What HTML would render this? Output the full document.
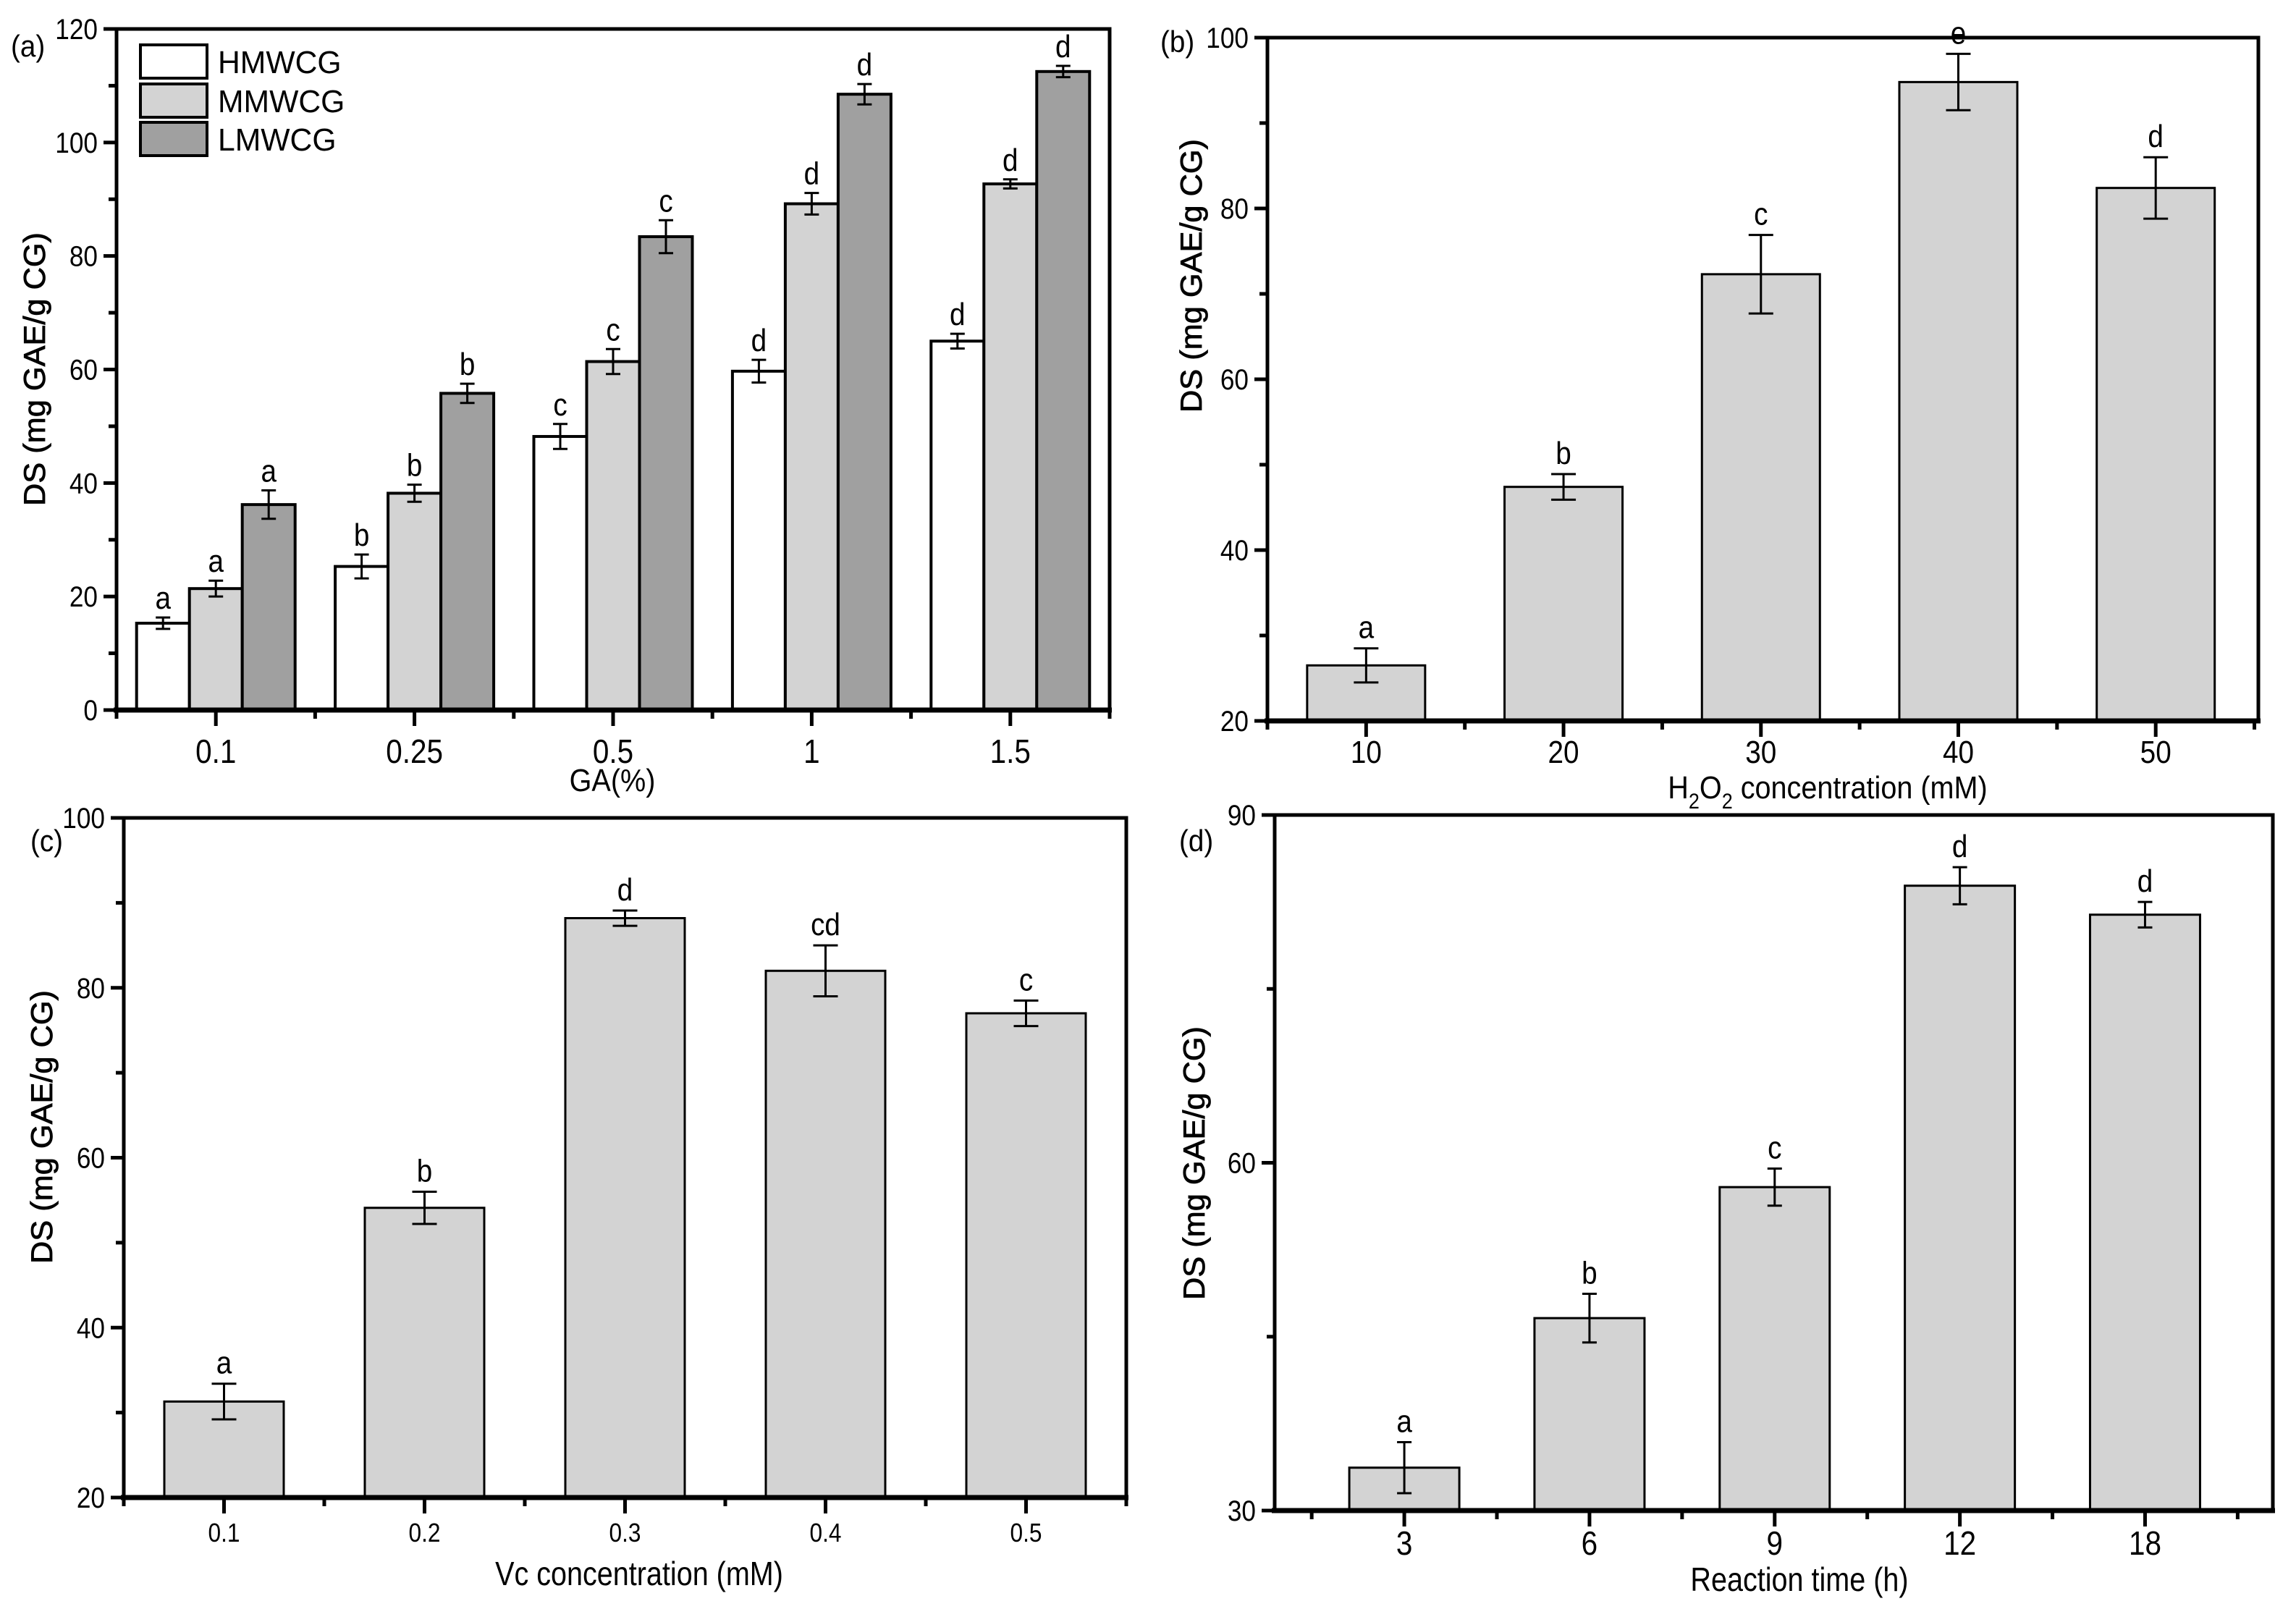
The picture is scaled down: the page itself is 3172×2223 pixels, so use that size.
<!DOCTYPE html>
<html><head><meta charset="utf-8"><style>
html,body{margin:0;padding:0;background:#fff;}
svg{display:block;font-family:"Liberation Sans",Arial,sans-serif;}
</style></head>
<body>
<svg id="fig" xmlns="http://www.w3.org/2000/svg" width="3172" height="2223" viewBox="0 0 3172 2223"></svg>
<script>
// ---- Panel (a) data ----
const aCategories = ["0.1","0.25","0.5","1","1.5"];
const aSeriesNames = ["HMWCG","MMWCG","LMWCG"];
const aHM = [15.3, 25.3, 48.2, 59.7, 65.0];
const aMM = [21.4, 38.2, 61.4, 89.2, 92.7];
const aLM = [36.2, 55.8, 83.4, 108.5, 112.5];
const aHMerr = [1.0, 2.1, 2.2, 2.0, 1.3];
const aMMerr = [1.4, 1.5, 2.2, 1.9, 0.8];
const aLMerr = [2.5, 1.7, 2.9, 1.8, 1.0];
const aHMlab = ["a","b","c","d","d"];
const aMMlab = ["a","b","c","d","d"];
const aLMlab = ["a","b","c","d","d"];
const aYTicks = [0,20,40,60,80,100,120];
// ---- Panel (b) data ----
const bCategories = ["10","20","30","40","50"];
const bValues = [26.5, 47.4, 72.3, 94.8, 82.4];
const bErr = [2.0, 1.5, 4.6, 3.3, 3.6];
const bLab = ["a","b","c","e","d"];
const bYTicks = [20,40,60,80,100];
// ---- Panel (c) data ----
const cCategories = ["0.1","0.2","0.3","0.4","0.5"];
const cValues = [31.3, 54.1, 88.2, 82.0, 77.0];
const cErr = [2.1, 1.9, 0.9, 3.0, 1.5];
const cLab = ["a","b","d","cd","c"];
const cYTicks = [20,40,60,80,100];
// ---- Panel (d) data ----
const dCategories = ["3","6","9","12","18"];
const dValues = [33.7, 46.6, 57.9, 83.9, 81.4];
const dErr = [2.2, 2.1, 1.6, 1.6, 1.1];
const dLab = ["a","b","c","d","d"];
const dYTicks = [30,60,90];

const NS = "http://www.w3.org/2000/svg";
const svg = document.getElementById("fig");
function mk(tag, attrs, parent) {
  const e = document.createElementNS(NS, tag);
  for (const k in attrs) e.setAttribute(k, attrs[k]);
  (parent || svg).appendChild(e);
  return e;
}
function txt(s, x, y, size, anchor, sx, parent) {
  const t = mk("text", {x: 0, y: 0, "font-size": size, "text-anchor": anchor || "middle",
    transform: "translate(" + x + "," + y + ") scale(" + (sx || 1) + ",1)"}, parent);
  t.textContent = s;
  return t;
}

function panel(cfg) {
  const g = mk("g", {});
  
  
  const yS = v => cfg.B - (v - cfg.ymin) / (cfg.ymax - cfg.ymin) * (cfg.B - cfg.T);
  const xS = i => cfg.L + (i - cfg.xmin) / (cfg.xmax - cfg.xmin) * (cfg.R - cfg.L);
  cfg.yS = yS; cfg.xS = xS; cfg.g = g;
  cfg.drawBars(cfg, g);
  const fr = mk("rect", {x: cfg.L, y: cfg.T, width: cfg.R - cfg.L, height: cfg.B - cfg.T, fill: "none", stroke: "#000", "stroke-width": 5}, g);
  
  
  const base = mk("line", {x1: cfg.L - 4, x2: cfg.R + 3, y1: cfg.B, y2: cfg.B, stroke: "#000", "stroke-width": 7}, g);
  
  
  const yax = mk("g", {}, g);
  
  
  for (let v = cfg.ymin; v <= cfg.ymax + 0.001; v += cfg.yminor) {
    const major = cfg.yTicks.indexOf(v) >= 0;
    const y = yS(v);
    mk("line", {x1: cfg.L, x2: cfg.L - (major ? 18 : 11), y1: y, y2: y, stroke: "#000", "stroke-width": 5}, yax);
  }
  cfg.yTicks.forEach(v => {
    const t = txt(String(v), cfg.L - 26, yS(v) + 14, 40, "end", 0.88, yax);
    
    
  });
  const xax = mk("g", {}, g);
  
  
  for (let h = Math.ceil(cfg.xmin * 2) / 2; h <= cfg.xmax + 0.001; h += 0.5) {
    const major = Math.abs(h - Math.round(h)) < 0.01;
    const x = xS(h);
    mk("line", {x1: x, x2: x, y1: cfg.B, y2: cfg.B + (major ? 22 : 12), stroke: "#000", "stroke-width": 5}, xax);
  }
  cfg.cats.forEach((c, i) => {
    const t = txt(c, xS(i), cfg.xTickY, cfg.xTickSize, "middle", 0.88, xax);
    
    
  });
  const yt = mk("text", {x: 0, y: 0, "font-size": 42, "text-anchor": "middle", stroke: "#000", "stroke-width": 0.8,
    transform: "translate(" + cfg.ytX + "," + cfg.ytY + ") rotate(-90)", textLength: 378, lengthAdjust: "spacingAndGlyphs"}, g);
  yt.textContent = "DS (mg GAE/g CG)";
  
  
  const pl = txt(cfg.label, cfg.plX, cfg.plY, 42, "start", 0.92, g);
  
  
  return cfg;
}

function errBar(g, x, yTop, yBot, cap, w) {
  const e = mk("g", {}, g);
  
  
  mk("line", {x1: x, x2: x, y1: yTop, y2: yBot, stroke: "#000", "stroke-width": w}, e);
  mk("line", {x1: x - cap, x2: x + cap, y1: yTop, y2: yTop, stroke: "#000", "stroke-width": w}, e);
  mk("line", {x1: x - cap, x2: x + cap, y1: yBot, y2: yBot, stroke: "#000", "stroke-width": w}, e);
}

function singleBars(vals, errs, labs, bw, cap) {
  return function (cfg, g) {
    vals.forEach((v, i) => {
      const x = cfg.xS(i), y = cfg.yS(v);
      const r = mk("rect", {x: x - bw / 2, y: y, width: bw, height: cfg.B - y, fill: "#d3d3d3", stroke: "#000", "stroke-width": 3}, g);
      
      
      const yt = cfg.yS(v + errs[i]);
      errBar(g, x, yt, cfg.yS(v - errs[i]), cap, 3);
      const t = txt(labs[i], x, yt - 14, 44, "middle", 0.88, g);
      
      
    });
  };
}

// Panel (a)
panel({
  name: "panel-a", label: "(a)", plX: 15, plY: 78,
  L: 161, R: 1533, T: 40, B: 981, ymin: 0, ymax: 120, yminor: 10, yTicks: aYTicks,
  xmin: -0.5, xmax: 4.5, cats: aCategories, xTickY: 1054, xTickSize: 46,
  ytX: 62, ytY: 510,
  drawBars: function (cfg, g) {
    const series = [aHM, aMM, aLM], errs = [aHMerr, aMMerr, aLMerr], labs = [aHMlab, aMMlab, aLMlab];
    const fills = ["#ffffff", "#d3d3d3", "#a0a0a0"];
    const bw = 73;
    series.forEach((s, k) => {
      s.forEach((v, i) => {
        const x = cfg.xS(i) + (k - 1) * bw, y = cfg.yS(v);
        const r = mk("rect", {x: x - bw / 2, y: y, width: bw, height: cfg.B - y, fill: fills[k], stroke: "#000", "stroke-width": 4}, g);
        
        
        const yt = cfg.yS(v + errs[k][i]);
        errBar(g, x, yt, cfg.yS(v - errs[k][i]), 10, 3);
        const t = txt(labs[k][i], x, yt - 12, 44, "middle", 0.88, g);
        
        
      });
    });
    const lg = mk("g", {}, g);
    
    
    const ly = [62, 116, 169];
    aSeriesNames.forEach((n, k) => {
      const e = mk("g", {}, lg);
      
      
      mk("rect", {x: 194, y: ly[k], width: 92, height: 46, fill: fills[k], stroke: "#000", "stroke-width": 4}, e);
      txt(n, 301, ly[k] + 39, 44, "start", 0.97, e);
    });
    const xt = txt("GA(%)", 846, 1093, 44, "middle", 0.9, g);
    
    
  }
});

// Panel (b)
panel({
  name: "panel-b", label: "(b)", plX: 1603, plY: 72,
  L: 1751, R: 3120, T: 52, B: 996, ymin: 20, ymax: 100, yminor: 10, yTicks: bYTicks,
  xmin: -0.5, xmax: 4.52, cats: bCategories, xTickY: 1054, xTickSize: 44,
  ytX: 1660, ytY: 381,
  drawBars: function (cfg, g) {
    singleBars(bValues, bErr, bLab, 163, 17)(cfg, g);
    const t = mk("text", {x: 0, y: 0, "font-size": 44, "text-anchor": "middle", transform: "translate(2525,1103) scale(0.9,1)"}, g);
    t.innerHTML = 'H<tspan font-size="30" dy="14">2</tspan><tspan dy="-14">O</tspan><tspan font-size="30" dy="14">2</tspan><tspan dy="-14">  concentration (mM)</tspan>';
    
    
  }
});

// Panel (c)
panel({
  name: "panel-c", label: "(c)", plX: 42, plY: 1176,
  L: 171, R: 1556, T: 1130, B: 2069, ymin: 20, ymax: 100, yminor: 10, yTicks: cYTicks,
  xmin: -0.5, xmax: 4.5, cats: cCategories, xTickY: 2130, xTickSize: 36,
  ytX: 72, ytY: 1557,
  drawBars: function (cfg, g) {
    singleBars(cValues, cErr, cLab, 165, 17)(cfg, g);
    const t = txt("Vc concentration (mM)", 883, 2190, 46, "middle", 0.86, g);
    
    
  }
});

// Panel (d)
panel({
  name: "panel-d", label: "(d)", plX: 1629, plY: 1176,
  L: 1761, R: 3140, T: 1126, B: 2087, ymin: 30, ymax: 90, yminor: 15, yTicks: dYTicks,
  xmin: -0.7, xmax: 4.69, cats: dCategories, xTickY: 2148, xTickSize: 46,
  ytX: 1664, ytY: 1607,
  drawBars: function (cfg, g) {
    singleBars(dValues, dErr, dLab, 152, 10)(cfg, g);
    const t = txt("Reaction time (h)", 2486, 2198, 46, "middle", 0.86, g);
    
    
  }
});
</script>
</body></html>
